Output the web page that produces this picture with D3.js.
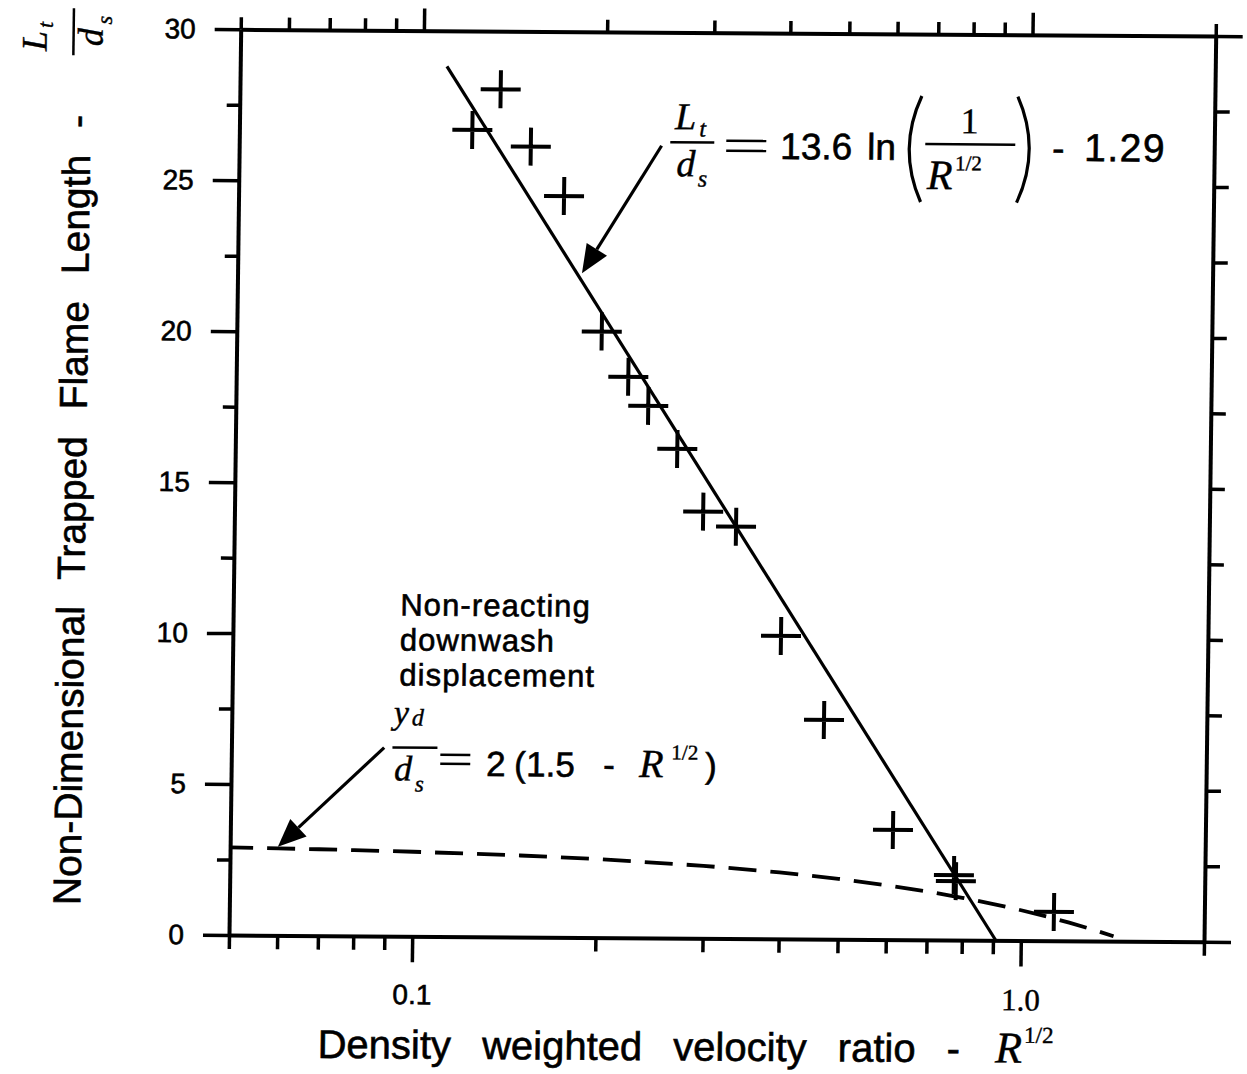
<!DOCTYPE html>
<html>
<head>
<meta charset="utf-8">
<script src="https://cdn.jsdelivr.net/npm/d3@7"></script>
<style>
  body { margin: 0; background: #fff; }
  svg { display: block; }
  .sans { font-family: "Liberation Sans", Arial, sans-serif; stroke: #000; stroke-width: 0.6px; }
  .math { font-family: "Liberation Serif", "Times New Roman", serif; font-style: italic; stroke: #000; stroke-width: 0.4px; }
  .rm { font-family: "Liberation Serif", "Times New Roman", serif; stroke: #000; stroke-width: 0.4px; }
</style>
</head>
<body>
<script>
// Measured runs: density weighted velocity ratio R^1/2 and trapped flame length L_t/d_s
const velocityRatio = [0.1207, 0.1341, 0.1507, 0.1713, 0.1989, 0.2204, 0.2380, 0.2662,
                       0.2945, 0.3337, 0.3977, 0.4699, 0.6133, 0.7740, 0.7800, 1.132];
const flameLength   = [26.72, 28.07, 26.18, 24.55, 20.07, 18.58, 17.62, 16.20,
                       14.13, 13.64, 10.03, 7.26, 3.63, 2.15, 1.95, 0.95];

// Correlation L_t/d_s = 13.6 ln(1/R^1/2) - 1.29 (a straight line on the log axis)
const fitRatio  = [0.1093, 0.9095];
const fitLength = [28.82, 0];

// Non-reacting downwash displacement y_d/d_s = 2 (1.5 - R^1/2)
const washRatio  = [0.05, 0.06, 0.07, 0.08, 0.1, 0.15, 0.2, 0.3, 0.4, 0.5, 0.6,
                    0.7, 0.8, 0.9, 1.0, 1.1, 1.2, 1.3, 1.42];
const washLength = [2.9, 2.88, 2.86, 2.84, 2.8, 2.7, 2.6, 2.4, 2.2, 2.0, 1.8,
                    1.6, 1.4, 1.2, 1.0, 0.8, 0.6, 0.4, 0.16];

// Axis ticks
const xTicks      = [0.05, 0.06, 0.07, 0.08, 0.09, 0.1, 0.2, 0.3, 0.4, 0.5, 0.6, 0.7, 0.8, 0.9, 1.0, 2.0];
const xTickLabels = ["", "", "", "", "", "0.1", "", "", "", "", "", "", "", "", "1.0", ""];
const yTicks      = [0, 2.5, 5, 7.5, 10, 12.5, 15, 17.5, 20, 22.5, 25, 27.5, 30];
const yTickLabels = ["0", "", "5", "", "10", "", "15", "", "20", "", "25", "", "30"];

const W = 975, H = 905.7;

const svg = d3.select("body").append("svg")
  .attr("width", 1247).attr("height", 1074)
  .style("background", "#fff");

// The printed figure sits slightly skewed on the page
const page = svg.append("g")
  .attr("transform", "matrix(1,0.00687,-0.01292,1,240.7,29.3)");

const x = d3.scaleLog().domain([0.05, 2.0]).range([0, W]);
const y = d3.scaleLinear().domain([0, 30]).range([H, 0]);

function styleAxis(g, domainW, tickW) {
  g.select(".domain").attr("stroke", "#000").attr("stroke-width", domainW);
  g.selectAll(".tick line").attr("stroke", "#000").attr("stroke-width", tickW);
}

// Bottom axis: labelled decades, minor ticks between
const gBottom = page.append("g").attr("transform", `translate(0,${H})`)
  .call(d3.axisBottom(x).tickValues(xTicks)
    .tickFormat((d, i) => xTickLabels[i]).tickSizeOuter(0).tickSizeInner(26).tickPadding(22));
styleAxis(gBottom, 4, 3.5);
gBottom.selectAll(".tick line").attr("y2", (d, i) => xTickLabels[i] ? 26 : 14);
gBottom.selectAll(".tick text")
  .attr("fill", "#000")
  .attr("class", (d, i) => xTickLabels[i] === "1.0" ? "rm" : "sans")
  .style("font-size", (d, i) => xTickLabels[i] === "1.0" ? "31px" : "28px");

// Top axis: ticks only
const gTop = page.append("g")
  .call(d3.axisTop(x).tickValues(xTicks).tickFormat("").tickSizeOuter(0).tickSizeInner(22));
styleAxis(gTop, 4, 3.5);
gTop.selectAll(".tick line").attr("y2", (d, i) => xTickLabels[i] ? -22 : -12);

// Left axis
const gLeft = page.append("g")
  .call(d3.axisLeft(y).tickValues(yTicks)
    .tickFormat((d, i) => yTickLabels[i]).tickSizeOuter(0).tickSizeInner(26).tickPadding(19));
styleAxis(gLeft, 4, 3.5);
gLeft.selectAll(".tick line").attr("x2", (d, i) => yTickLabels[i] ? -26 : -13);
gLeft.selectAll(".tick text").attr("fill", "#000").attr("class", "sans").style("font-size", "28px");

// Right axis
const gRight = page.append("g").attr("transform", `translate(${W},0)`)
  .call(d3.axisRight(y).tickValues(yTicks).tickFormat("").tickSizeOuter(0).tickSizeInner(15));
styleAxis(gRight, 4, 3.5);
gRight.selectAll(".tick line").attr("x2", (d, i) => (i === 0 || i === yTicks.length - 1) ? 27 : 15);

// Downwash displacement (dashed)
const wash = washRatio.map((r, i) => [r, washLength[i]]);
page.append("path")
  .attr("d", d3.line().x(d => x(d[0])).y(d => y(d[1]))(wash))
  .attr("fill", "none").attr("stroke", "#000").attr("stroke-width", 3.8)
  .attr("stroke-dasharray", "28,14").attr("stroke-dashoffset", 5);

// Correlation line
const fit = fitRatio.map((r, i) => [r, fitLength[i]]);
page.append("path")
  .attr("d", d3.line().x(d => x(d[0])).y(d => y(d[1]))(fit))
  .attr("fill", "none").attr("stroke", "#000").attr("stroke-width", 3.2);

// Data markers (+)
page.append("g").selectAll("path")
  .data(velocityRatio.map((r, i) => [r, flameLength[i]]))
  .join("path")
  .attr("transform", d => `translate(${x(d[0])},${y(d[1])})`)
  .attr("d", "M-20,0H20M0,-19V19")
  .attr("stroke", "#000").attr("stroke-width", 4).attr("fill", "none");

// Arrow helper: from a tail offset (pixels) to a tip placed at data coordinates
function arrow(tipR, tipL, dx, dy) {
  const tx = x(tipR), ty = y(tipL);
  const ang = Math.atan2(-dy, -dx);
  const len = 28, hw = 12;
  const bx = tx - len * Math.cos(ang), by = ty - len * Math.sin(ang);
  page.append("line")
    .attr("x1", tx + dx).attr("y1", ty + dy).attr("x2", bx).attr("y2", by)
    .attr("stroke", "#000").attr("stroke-width", 3.2);
  const px = -Math.sin(ang) * hw, py = Math.cos(ang) * hw;
  page.append("path")
    .attr("d", `M${tx},${ty}L${bx + px},${by + py}L${bx - px},${by - py}Z`)
    .attr("fill", "#000");
}

arrow(0.184, 22.0, 78, -128);
arrow(0.0599, 2.93, 105, -100);

// Text helpers
const ann = page.append("g");
function txt(g, cls, size, tx, ty, s, anchor) {
  return g.append("text").attr("class", cls).attr("x", tx).attr("y", ty)
    .attr("text-anchor", anchor || "start").style("font-size", size + "px").attr("fill", "#000").text(s);
}
function rule(g, x1, x2, yy, w) {
  g.append("line").attr("x1", x1).attr("x2", x2).attr("y1", yy).attr("y2", yy)
    .attr("stroke", "#000").attr("stroke-width", w || 2.5);
}

// Upper annotation: L_t/d_s = 13.6 ln(1/R^1/2) - 1.29
txt(ann, "math", 38, 446, 97, "L", "middle");
txt(ann, "math", 24, 460, 104, "t");
rule(ann, 431, 475, 110);
txt(ann, "math", 38, 447, 144, "d", "middle");
txt(ann, "math", 24, 459, 154, "s");
rule(ann, 487, 527, 108);
rule(ann, 487, 527, 118);
txt(ann, "sans", 37, 541, 126, "13.6");
txt(ann, "sans", 37, 628, 126, "ln");
ann.append("path").attr("d", "M682,62 Q658,115 682,168").attr("fill", "none").attr("stroke", "#000").attr("stroke-width", 3.2);
ann.append("path").attr("d", "M778,62 Q802,115 778,168").attr("fill", "none").attr("stroke", "#000").attr("stroke-width", 3.2);
txt(ann, "rm", 36, 730, 99, "1", "middle");
rule(ann, 686, 776, 110);
txt(ann, "math", 42, 688, 155, "R");
txt(ann, "rm", 21, 716, 136, "1/2");
txt(ann, "sans", 37, 813, 126, "-");
txt(ann, "sans", 39, 845, 126, "1.29").style("letter-spacing", "1.5px");

// Lower annotation: non-reacting downwash displacement
txt(ann, "sans", 31, 167, 585, "Non-reacting").style("letter-spacing", "1.1px");
txt(ann, "sans", 31, 167, 620, "downwash").style("letter-spacing", "1.1px");
txt(ann, "sans", 31, 167, 655, "displacement").style("letter-spacing", "1.1px");
txt(ann, "math", 34, 162, 693, "y");
txt(ann, "math", 24, 180, 695, "d");
rule(ann, 161, 206, 717);
txt(ann, "math", 36, 163, 750, "d");
txt(ann, "math", 23, 184, 761, "s");
rule(ann, 209, 239, 724);
rule(ann, 209, 239, 733);
txt(ann, "sans", 35, 255, 745, "2");
txt(ann, "sans", 35, 283, 745, "(");
txt(ann, "sans", 35, 295, 745, "1.5");
txt(ann, "sans", 35, 372, 745, "-");
txt(ann, "math", 40, 408, 745, "R");
txt(ann, "rm", 21, 440, 727, "1/2");
txt(ann, "sans", 35, 474, 745, ")");

// Axis titles
const xTitle = txt(page, "sans", 40, 90, 1028, "Density weighted velocity ratio - ").style("word-spacing", "20px");
xTitle.append("tspan").attr("class", "math").style("font-size", "44px").attr("dx", 4).text("R");
xTitle.append("tspan").attr("class", "rm").style("font-size", "23px").attr("dy", -20).attr("dx", 2).text("1/2");

const yTitle = page.append("g").attr("transform", "translate(-149,877) rotate(-90)");
txt(yTitle, "sans", 39, 0, 0, "Non-Dimensional Trapped Flame Length -").style("word-spacing", "16px");
txt(yTitle, "math", 36, 864, -45, "L", "middle");
txt(yTitle, "math", 22, 877, -39, "t");
rule(yTitle, 850, 897, -18);
txt(yTitle, "math", 36, 868, 11, "d", "middle");
txt(yTitle, "math", 22, 881, 20, "s");
</script>
</body>
</html>
